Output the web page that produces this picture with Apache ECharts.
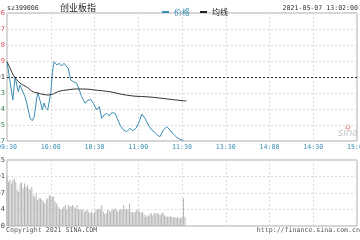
<!DOCTYPE html>
<html><head><meta charset="utf-8">
<script src="https://cdn.jsdelivr.net/npm/echarts@6/dist/echarts.min.js"></script>
<style>html,body{margin:0;padding:0;background:#fff}#c{width:360px;height:240px}</style>
</head><body><div id="c"></div>
<script>
// ---- data ----
const timeLabels = ['09:30','10:00','10:30','11:00','11:30','13:30','14:00','14:30','15:00'];
const yTickLabels = ['2916.47','2925.35','2934.24','2943.13','2952.01','2960.89','2969.78','2978.67','2987.56'];
const volTickLabels = ['0','34','67','101','135'];
const preClose = 2952;
// [minute, price]
const price = [[0,2960.61],[4,2939.06],[5.5,2952.17],[6.7,2947.5],[7.7,2943.73],[8.9,2947.5],[10.1,2948.46],[11.2,2943.0],[12.3,2940.92],[13.5,2937.38],[15.8,2928.94],[17.3,2927.42],[18.7,2929.67],[20.4,2940.19],[21.1,2943.0],[21.9,2940.92],[23.1,2937.38],[24.2,2933.44],[25.4,2937.38],[26.5,2934.56],[27.9,2933.44],[28.8,2932.48],[30,2943.0],[31.1,2954.25],[32.2,2960.61],[32.9,2961.56],[34.1,2958.75],[35.9,2959.71],[37.5,2958.19],[39.1,2959.71],[40.5,2958.19],[42,2956.89],[43.7,2950.31],[45.5,2949.36],[47.8,2948.46],[49.6,2944.69],[51.2,2940.92],[53.5,2937.21],[55.1,2938.67],[57.4,2939.46],[59.2,2937.21],[61.5,2933.44],[63.3,2935.29],[64.9,2928.77],[66.5,2930.63],[68.4,2931.58],[70.1,2930.06],[71.8,2931.92],[74.1,2931.58],[75.6,2928.77],[77.5,2925.0],[79.8,2922.19],[82.1,2921.23],[84.3,2923.14],[86.2,2921.79],[88.5,2923.14],[90.7,2926.86],[92.4,2931.19],[94.6,2928.77],[96.9,2925.0],[99.2,2922.19],[100.8,2921.23],[103.1,2919.38],[104.9,2918.42],[107.2,2922.19],[109.5,2924.04],[111.8,2922.19],[114,2919.94],[116.4,2918.08],[118.6,2916.96],[120,2916.56],[121,2916.4]];
const avgPrice = [[0,2960.61],[2.7,2955.94],[4.3,2953.0],[8.9,2948.6],[13.5,2946.4],[18,2943.6],[21.3,2943.0],[24.7,2942.2],[28.1,2941.9],[31,2942.2],[32.9,2943.0],[36.3,2944.1],[41.1,2944.7],[46.6,2945.25],[53.5,2945.25],[60.3,2944.69],[70.6,2943.7],[77.5,2942.44],[86.4,2941.31],[98,2940.75],[108.3,2939.8],[120,2938.7],[123,2938.6]];
const volume = [101,91,94,87,94,97,90,74,70,87,89,77,87,80,84,77,74,80,63,60,67,53,58,57,53,50,46,55,57,63,62,60,60,50,46,40,36,33,36,40,43,34,43,40,41,43,39,36,43,34,33,34,33,29,31,33,29,26,29,26,27,33,34,36,34,43,29,25,26,33,31,29,33,34,36,33,29,33,35,34,43,33,36,32,46,29,28,27,29,33,32,29,27,29,24,19,22,20,25,26,22,27,25,26,25,22,26,27,22,20,19,19,20,19,18,18,17,18,17,16,18,57,19];

// ---- chart ----
const mono = 'DejaVu Sans Mono';
const chart = echarts.init(document.getElementById('c'), null, {renderer:'canvas'});
const splitDash = {show:true, lineStyle:{color:'#dcdcdc', type:[2,2], width:1}};
chart.setOption({
  animation:false,
  backgroundColor:'#fff',
  legend:{
    left:157, top:3, itemWidth:7, itemHeight:2, itemGap:10, icon:'rect',
    textStyle:{fontSize:8, fontFamily:'Noto Sans CJK SC', padding:[0,0,0,0]},
    data:[{name:'价格', textStyle:{color:'#3b8db3'}},{name:'均线', textStyle:{color:'#222'}}]
  },
  graphic:[
    {type:'text', left:7, top:5, style:{text:'sz399006', font:'6.6px "DejaVu Sans Mono"', fill:'#333'}},
    {type:'text', left:60, top:3, style:{text:'创业板指', font:'9px "Noto Sans CJK SC"', fill:'#222'}},
    {type:'text', right:2, top:5, style:{text:'2021-05-07 13:02:00', font:'6.6px "DejaVu Sans Mono"', fill:'#333'}},
    {type:'text', left:6, top:227, style:{text:'Copyright 2021 SINA.COM', font:'6.6px "DejaVu Sans Mono"', fill:'#555'}},
    {type:'text', right:0, top:227, style:{text:'http://finance.sina.com.cn', font:'6.6px "DejaVu Sans Mono"', fill:'#555'}},
    {type:'text', left:338, top:128, style:{text:'sina', font:'italic 10px "DejaVu Sans"', fill:'#c4c4c4'}},
    {type:'circle', shape:{cx:348, cy:127, r:2}, style:{fill:'none', stroke:'#e88', lineWidth:1}}
  ],
  grid:[
    {left:7, top:13, width:350, height:128, show:true, borderColor:'#aaa', borderWidth:1, containLabel:false, outerBoundsMode:'none'},
    {left:7, top:160, width:350, height:66, show:true, borderColor:'#aaa', borderWidth:1, containLabel:false, outerBoundsMode:'none'}
  ],
  xAxis:[
    {type:'value', gridIndex:0, min:0, max:240, interval:30,
     axisLine:{show:false}, axisTick:{show:false}, splitLine:splitDash,
     axisLabel:{show:true, margin:3, fontSize:6.6, fontFamily:mono, color:'#3b8db3', hideOverlap:false,
       showMinLabel:true, showMaxLabel:true, formatter:v=>timeLabels[Math.round(v/30)]}},
    {type:'value', gridIndex:1, min:0, max:240, interval:30,
     axisLine:{show:false}, axisTick:{show:false}, splitLine:splitDash, axisLabel:{show:false}}
  ],
  yAxis:[
    {type:'value', gridIndex:0, min:2916, max:2988, interval:9,
     axisLine:{show:false}, axisTick:{show:false}, splitLine:splitDash,
     axisLabel:{margin:2, fontSize:7, fontFamily:mono, showMinLabel:true, showMaxLabel:true,
       formatter:v=>yTickLabels[Math.round((v-2916)/9)],
       color:v=> v>preClose+0.5 ? '#d9535a' : (v<preClose-0.5 ? '#2f7a4a' : '#222')}},
    {type:'value', gridIndex:1, min:0, max:135, interval:33.75,
     axisLine:{show:false}, axisTick:{show:false}, splitLine:splitDash,
     axisLabel:{margin:2, fontSize:7, fontFamily:mono, color:'#444', showMinLabel:true, showMaxLabel:true,
       formatter:v=>volTickLabels[Math.round(v/33.75)]}}
  ],
  series:[
    {name:'价格', type:'line', xAxisIndex:0, yAxisIndex:0, data:price, showSymbol:false,
     lineStyle:{color:'#3b8db3', width:1}, itemStyle:{color:'#3b8db3'},
     markLine:{silent:true, symbol:'none', label:{show:false},
       lineStyle:{color:'#222', type:[2,2], width:1}, data:[{yAxis:preClose}]}},
    {name:'均线', type:'line', xAxisIndex:0, yAxisIndex:0, data:avgPrice, showSymbol:false, smooth:0.3,
     lineStyle:{color:'#333', width:1}, itemStyle:{color:'#222'}},
    {name:'成交量', type:'bar', xAxisIndex:1, yAxisIndex:1, barWidth:1,
     data:volume.map((v,i)=>[i,v]), itemStyle:{color:'#b4b4b4'}}
  ]
});
</script></body></html>
